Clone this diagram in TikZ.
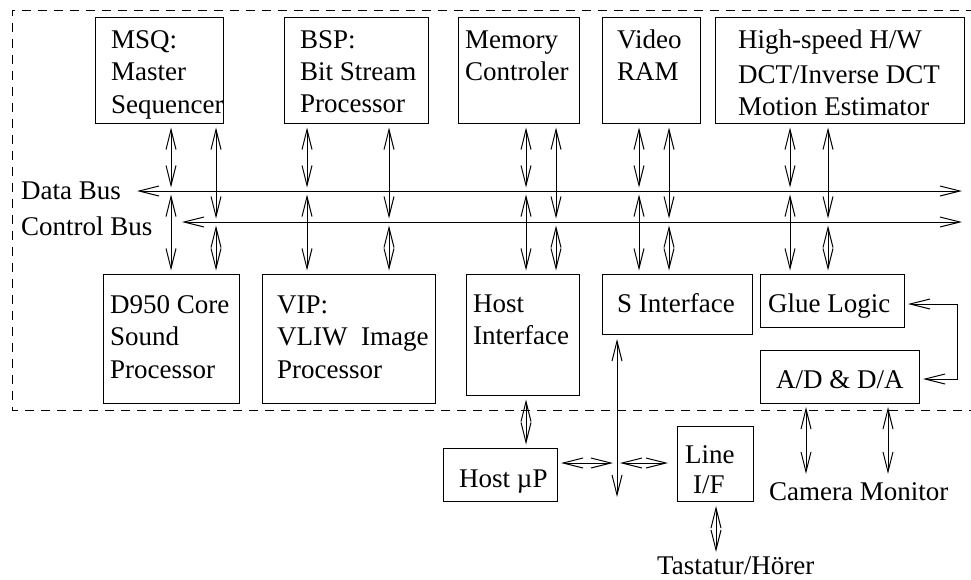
\documentclass[tikz,border=0pt]{standalone}
\usepackage{fontspec}
\setmainfont{Liberation Serif}
\usetikzlibrary{arrows.meta}
\begin{document}
\begin{tikzpicture}[x=1pt,y=-1pt,
  bx/.style={draw, line width=1pt, inner sep=0pt, anchor=north west},
  tx/.style={anchor=base west, inner sep=0pt, font=\fontsize{27}{32}\selectfont},
  ar/.style={line width=1pt, {Straight Barb[length=20pt,width=10pt]}-{Straight Barb[length=20pt,width=10pt]}},
  sh/.style={shorten <=3.5pt, shorten >=3.5pt},
  frame/.style={line width=1pt, dash pattern=on 9pt off 7pt}]
\useasboundingbox[fill=white] (0,0) rectangle (971,579);
% frame
\coordinate (fTR) at (975,10);
\coordinate (fTL) at (12,10);
\coordinate (fBL) at (12,410);
\coordinate (fBR) at (975,410);
\draw[frame] (fTR) -- (fTL) -- (fBL) -- (fBR);
% boxes
\node[bx, minimum width=128pt, minimum height=106pt] (msq) at (95,17) {};
\node[bx, minimum width=144pt, minimum height=106pt] (bsp) at (284,17) {};
\node[bx, minimum width=121pt, minimum height=106pt] (mem) at (458,17) {};
\node[bx, minimum width=98pt, minimum height=106pt] (vram) at (602,17) {};
\node[bx, minimum width=249pt, minimum height=106pt] (hs) at (715,17) {};
\node[bx, minimum width=136pt, minimum height=129pt] (d950) at (103,274) {};
\node[bx, minimum width=173pt, minimum height=129pt] (vip) at (262,274) {};
\node[bx, minimum width=113pt, minimum height=121pt] (hif) at (466,274) {};
\node[bx, minimum width=150pt, minimum height=60pt] (sif) at (602,274) {};
\node[bx, minimum width=144pt, minimum height=53pt] (glue) at (760,274) {};
\node[bx, minimum width=159pt, minimum height=53pt] (ad) at (760,350) {};
\node[bx, minimum width=114pt, minimum height=53pt] (hup) at (443,448) {};
\node[bx, minimum width=76pt, minimum height=75pt] (lif) at (677,426) {};
% texts
\node[tx] (t1a) at (111,48) {MSQ:};
\node[tx] (t1b) at (111,80) {Master};
\node[tx] (t1c) at (111,113) {Sequencer};
\node[tx] (t2a) at (300,48) {BSP:};
\node[tx] (t2b) at (300,80) {Bit Stream};
\node[tx] (t2c) at (300,112) {Processor};
\node[tx] (t3a) at (465,48) {Memory};
\node[tx] (t3b) at (465,80) {Controler};
\node[tx] (t4a) at (617,48) {Video};
\node[tx] (t4b) at (617,80) {RAM};
\node[tx] (t5a) at (738,48) {High-speed H/W};
\node[tx] (t5b) at (738,83) {DCT/Inverse DCT};
\node[tx] (t5c) at (738,115) {Motion Estimator};
\node[tx] (t6a) at (110,313) {D950 Core};
\node[tx] (t6b) at (110,345) {Sound};
\node[tx] (t6c) at (110,378) {Processor};
\node[tx] (t7a) at (277,313) {VIP:};
\node[tx] (t7b) at (277,345) {VLIW\ \ Image};
\node[tx] (t7c) at (277,378) {Processor};
\node[tx] (t8a) at (473,312) {Host};
\node[tx] (t8b) at (473,344) {Interface};
\node[tx] (t9) at (617,312) {S Interface};
\node[tx] (t10) at (768,312) {Glue Logic};
\node[tx] (t11) at (776,388) {A/D \& D/A};
\node[tx] (t12) at (459,487) {Host µP};
\node[tx] (t13a) at (685,463) {Line};
\node[tx] (t13b) at (693,493) {I/F};
\node[tx] (dbus) at (21,199) {Data Bus};
\node[tx] (cbus) at (21,235) {Control Bus};
\node[tx] (cam) at (769,500) {Camera Monitor};
\node[tx] (tast) at (657,574) {Tastatur/Hörer};
% buses
\coordinate (dbL) at (137,191);
\coordinate (dbR) at (962,191);
\coordinate (cbL) at (182,222);
\coordinate (cbR) at (962,222);
\draw[ar] (dbL) -- (dbR);
\draw[ar] (cbL) -- (cbR);
% column x positions
\coordinate (c1a) at (171,0);
\coordinate (c1b) at (216,0);
\coordinate (c2a) at (307,0);
\coordinate (c2b) at (389,0);
\coordinate (c3a) at (526,0);
\coordinate (c3b) at (556,0);
\coordinate (c4a) at (639,0);
\coordinate (c4b) at (669,0);
\coordinate (c5a) at (790,0);
\coordinate (c5b) at (828,0);
\foreach \top/\bot/\a/\b in {msq/d950/c1a/c1b, bsp/vip/c2a/c2b, mem/hif/c3a/c3b, vram/sif/c4a/c4b, hs/glue/c5a/c5b}{
  \draw[ar,sh] (\top.south -| \a) -- (dbL -| \a);
  \draw[ar,sh] (dbL -| \a) -- (\bot.north -| \a);
  \draw[ar,sh] (\top.south -| \b) -- (cbL -| \b);
  \draw[ar,sh] (cbL -| \b) -- (\bot.north -| \b);
}
% host interface to host uP
\draw[ar,sh] (hif.south -| c3a) -- (hup.north -| c3a);
% S interface line
\coordinate (sEnd) at (617,497);
\coordinate (hy) at (0,463);
\draw[ar, shorten <=4pt] (sif.south -| sEnd) -- (sEnd);
\draw[ar, shorten <=3pt, shorten >=4pt] (hup.east |- hy) -- (sEnd |- hy);
\draw[ar, shorten <=3pt, shorten >=9pt] (sEnd |- hy) -- (lif.west |- hy);
% line I/F to Tastatur
\coordinate (cl) at (716,0);
\draw[ar, shorten <=4pt, shorten >=4pt] (lif.south -| cl) -- (tast.north -| cl);
% A/D to camera, monitor
\coordinate (cc) at (806,0);
\coordinate (cm) at (888,0);
\draw[ar, shorten <=3pt, shorten >=8pt] (ad.south -| cc) -- (cam.north -| cc);
\draw[ar, shorten <=3pt, shorten >=8pt] (ad.south -| cm) -- (cam.north -| cm);
% glue <-> A/D
\coordinate (fb1) at (957,304);
\coordinate (fb2) at (957,379);
\draw[ar, shorten <=3pt, shorten >=3pt] (glue.east |- fb1) -- (fb1) -- (fb2) -- (ad.east |- fb2);
\end{tikzpicture}
\end{document}
